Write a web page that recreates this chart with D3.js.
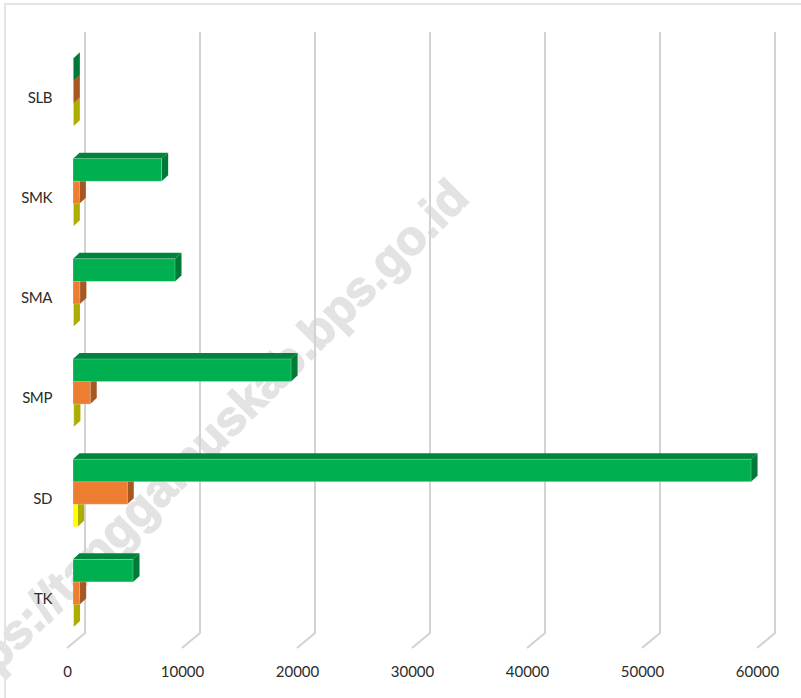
<!DOCTYPE html>
<html>
<head>
<meta charset="utf-8">
<script src="https://cdn.jsdelivr.net/npm/d3@7"></script>
<style>
  html, body { margin: 0; padding: 0; background: #fff; }
  svg { display: block; }
  text { font-family: Lato, "Open Sans", sans-serif; fill: #333; }
</style>
</head>
<body>
<div id="chart"></div>
<script>
const categories = ['SLB', 'SMK', 'SMA', 'SMP', 'SD', 'TK'];
const seriesNames = ['green', 'orange', 'yellow'];
const greenValues = [30, 7710, 8870, 18960, 58960, 5220];
const orangeValues = [30, 550, 600, 1500, 4720, 580];
const yellowValues = [30, 30, 40, 80, 400, 50];
const xTicks = [0, 10000, 20000, 30000, 40000, 50000, 60000];

const width = 801;
const height = 698;

// front corner of the floor, the back wall sits depthX/depthY behind it
const plot = { left: 67, top: 47, bottom: 648, right: 757 };
const depthX = 18;
const depthY = 15;

const colors = {
    green: { front: '#00b050', top: '#00863c', side: '#007a36' },
    orange: { front: '#ed7d31', top: '#a8592a', side: '#a85723' },
    yellow: { front: '#ffff00', top: '#b3b300', side: '#adad00' }
};

const svg = d3.select('#chart')
              .append('svg')
              .attr('width', width)
              .attr('height', height);

// watermark goes under everything
svg.append('text')
   .attr('transform', 'translate(471,200) rotate(-45)')
   .attr('text-anchor', 'end')
   .style('font-family', '"Liberation Sans", Arial, sans-serif')
   .style('font-weight', 'bold')
   .style('font-size', '48.5px')
   .style('fill', '#e3e3e3')
   .style('stroke', '#e3e3e3')
   .style('stroke-width', 1.5)
   .text('https://tanggamuskab.bps.go.id');

// chart frame, only top and left show
svg.append('path')
   .attr('d', `M5,${height}V4H${width}`)
   .attr('fill', 'none')
   .attr('stroke', '#e5e5e5')
   .attr('stroke-width', 2);

// scales
const x = d3.scaleLinear()
            .domain([0, 60000])
            .range([plot.left, plot.right]);
const y = d3.scaleBand()
            .domain(categories)
            .range([plot.top, plot.bottom]);
const barY = d3.scaleBand()
               .domain(seriesNames)
               .range([0, y.bandwidth() * 0.675]);

// gridlines: up the back wall, then the diagonal across the floor
svg.append('g')
   .selectAll('path')
   .data(xTicks)
   .join('path')
   .attr('d', d => `M${x(d)},${plot.bottom}l${depthX},${-depthY}V${plot.top - depthY}`)
   .attr('fill', 'none')
   .attr('stroke', '#d2d2d2')
   .attr('stroke-width', 2);

// axes
svg.append('g')
   .attr('transform', `translate(0, ${plot.bottom + 15})`)
   .call(d3.axisBottom(x).tickValues(xTicks).tickSize(0).tickFormat(d3.format('d')))
   .call(g => g.select('.domain').remove())
   .call(g => g.selectAll('text').style('font-size', '15px').style('fill', '#2b2b2b'));
svg.append('g')
   .attr('transform', `translate(${plot.left - 12}, 1)`)
   .call(d3.axisLeft(y).tickSize(0))
   .call(g => g.select('.domain').remove())
   .call(g => g.selectAll('text').style('font-size', '15px').style('fill', '#2b2b2b').style('letter-spacing', '-0.4px'));

// bars, bottom one first so the one above covers its top face
const barRows = [
    { name: 'yellow', values: yellowValues },
    { name: 'orange', values: orangeValues },
    { name: 'green', values: greenValues }
];
const barDx = 6;
const barDepthX = 6.5;
const barDepthY = 6;

categories.slice().reverse().forEach(cat => {
    const i = categories.indexOf(cat);
    barRows.forEach(row => {
        const c = colors[row.name];
        const x0 = x(0) + barDx;
        const x1 = x(row.values[i]) + barDx;
        const y0 = y(cat) + barY(row.name) + y.bandwidth() * 0.115;
        const y1 = y0 + barY.bandwidth();
        const g = svg.append('g');
        // top face
        g.append('path')
         .attr('d', `M${x0},${y0}l${barDepthX},${-barDepthY}H${x1 + barDepthX}L${x1},${y0}Z`)
         .attr('fill', c.top);
        // side face
        g.append('path')
         .attr('d', `M${x1},${y0}l${barDepthX},${-barDepthY}V${y1 - barDepthY}L${x1},${y1}Z`)
         .attr('fill', c.side);
        // front face, faint light edge like the original
        g.append('rect')
         .attr('x', x0)
         .attr('y', y0)
         .attr('width', x1 - x0)
         .attr('height', y1 - y0)
         .attr('fill', c.front)
         .attr('stroke', '#fff')
         .attr('stroke-opacity', 0.3)
         .attr('stroke-width', 0.8);
    });
});
</script>
</body>
</html>
